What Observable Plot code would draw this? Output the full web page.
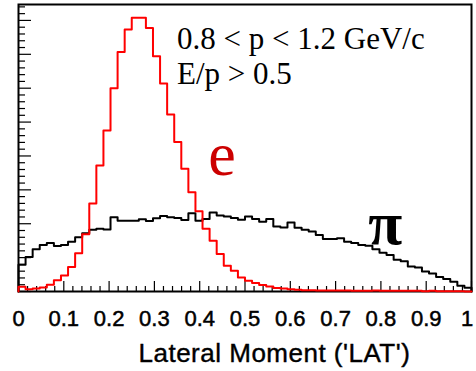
<!DOCTYPE html>
<html>
<head>
<meta charset="utf-8">
<script src="https://cdn.jsdelivr.net/npm/d3@7"></script>
<script src="https://cdn.jsdelivr.net/npm/@observablehq/plot@0.6"></script>
<style>
  html, body { margin: 0; padding: 0; background: #fff; }
</style>
</head>
<body>
<div id="chart"></div>
<script>
// ---- histogram binning: 64 bins over [0, 1] ----
const binCount = 64;
const xRange = [0, 1];

// electron histogram (arbitrary units), bins 0..63
const electron = [
  14, 7, 9, 12, 20, 33, 47, 72, 113, 169, 260, 372, 475, 600, 707, 773,
  808, 808, 778, 694, 614, 522, 441, 362, 293, 237, 185, 150, 111, 76, 61, 41,
  32, 25, 19, 15, 10, 9, 7, 5, 4, 4, 3, 3, 3, 3, 3, 2,
  2, 2, 3, 2, 2, 2, 2, 2, 2, 1, 2, 1, 1, 1, 1, 0
];

// pion histogram (arbitrary units), bins 0..63
const pion = [
  79, 102, 125, 137, 143, 134, 137, 147, 160, 172, 182, 185, 183, 219, 209, 209,
  209, 213, 208, 216, 223, 219, 217, 211, 231, 209, 214, 233, 224, 221, 217, 212,
  221, 214, 206, 214, 192, 189, 204, 188, 182, 177, 167, 155, 155, 157, 147, 143,
  137, 135, 125, 114, 108, 94, 89, 74, 71, 59, 53, 43, 37, 29, 17, 11
];

// axes
const xMajorTicks = [0, 0.1, 0.2, 0.3, 0.4, 0.5, 0.6, 0.7, 0.8, 0.9, 1];
const xTickLabels = ["0", "0.1", "0.2", "0.3", "0.4", "0.5", "0.6", "0.7", "0.8", "0.9", "1"];
const xMinorStep = 0.02;
const yMajorTicks = [0, 100, 200, 300, 400, 500, 600, 700, 800];
const yMinorStep = 20;
const yMax = 847;
const axisTitle = ["Lateral Moment ('LAT')"];

// annotations
const cutLabels = ["0.8 < p < 1.2 GeV/c", "E/p > 0.5"];
const cutLabelX = [0.35, 0.35];
const cutLabelY = [716, 612];
const seriesLabels = ["e", "π"];
const seriesLabelX = [0.419, 0.772];
const seriesLabelY = [345, 141];
const seriesLabelColors = ["#cc0000", "#000000"];

// ---- build step outlines from the bins ----
const binWidth = (xRange[1] - xRange[0]) / binCount;
function outline(values) {
  const pts = [{x: xRange[0], y: 0}];
  values.forEach((v, i) => pts.push({x: xRange[0] + i * binWidth, y: v}));
  pts.push({x: xRange[1], y: values[values.length - 1]});
  pts.push({x: xRange[1], y: 0});
  return pts;
}
const xMinorTicks = d3.range(0, 1.0001, xMinorStep).filter(t => !xMajorTicks.some(m => Math.abs(m - t) < 1e-6));
const yMinorTicks = d3.range(0, yMax, yMinorStep).filter(t => t % 100 !== 0);
const labelMap = new Map(xMajorTicks.map((t, i) => [t, xTickLabels[i]]));

const cutData = cutLabels.map((t, i) => ({t, x: cutLabelX[i], y: cutLabelY[i]}));
const seriesData = seriesLabels.map((t, i) => ({t, x: seriesLabelX[i], y: seriesLabelY[i], c: seriesLabelColors[i]}));

const serif = "'Liberation Serif', 'Times New Roman', serif";
const sans = "'Liberation Sans', Arial, Helvetica, sans-serif";

const chart = Plot.plot({
  width: 476,
  height: 371,
  marginLeft: 18,
  marginRight: 5,
  marginTop: 4,
  marginBottom: 80,
  style: {fontFamily: sans, fontSize: "22px", background: "#fff", color: "#000"},
  x: {domain: xRange},
  y: {domain: [0, yMax]},
  marks: [
    // x tick labels
    Plot.axisX({ticks: xMajorTicks, tickSize: 0, tickPadding: 19, tickFormat: d => labelMap.get(d), label: null, fontSize: 22}),
    // x ticks (inward)
    Plot.axisX({ticks: xMajorTicks, tickSize: -10, tickFormat: () => "", label: null, strokeWidth: 1.2}),
    Plot.axisX({ticks: xMinorTicks, tickSize: -5, tickFormat: () => "", label: null, strokeWidth: 1.2}),
    // y ticks (inward, no labels)
    Plot.axisY({ticks: yMajorTicks, tickSize: -13, tickFormat: () => "", label: null, strokeWidth: 1.2}),
    Plot.axisY({ticks: yMinorTicks, tickSize: -7, tickFormat: () => "", label: null, strokeWidth: 1.2}),
    // histograms
    Plot.line(outline(pion), {x: "x", y: "y", curve: "step-after", stroke: "#000", strokeWidth: 2}),
    Plot.frame({stroke: "#000", strokeWidth: 2}),
    Plot.line(outline(electron), {x: "x", y: "y", curve: "step-after", stroke: "#ff0000", strokeWidth: 2}),
    // annotations
    Plot.text(cutData, {x: "x", y: "y", text: "t", textAnchor: "start", lineAnchor: "bottom", fontFamily: serif, fontSize: 31, fill: "#000"}),
    Plot.text(seriesData.slice(0, 1), {x: "x", y: "y", text: "t", textAnchor: "start", lineAnchor: "bottom", fontFamily: serif, fontSize: 62, fill: "c"}),
    Plot.text(seriesData.slice(1), {x: "x", y: "y", text: "t", textAnchor: "start", lineAnchor: "bottom", fontFamily: serif, fontSize: 62, fontWeight: "bold", fill: "c"}),
    // axis title
    Plot.text(axisTitle, {frameAnchor: "bottom", x: () => 0.565, text: d => d, textAnchor: "middle", lineAnchor: "bottom", dy: 70, fontFamily: sans, fontSize: 26, fill: "#000"})
  ]
});
document.getElementById("chart").appendChild(chart);
// post-render touches: heavier glyphs as in the reference raster, keep "1" inside the picture
d3.select(chart).selectAll("text").each(function() {
  const s = this.textContent.trim();
  if (xTickLabels.includes(s)) {
    this.style.stroke = "#000";
    this.style.strokeWidth = "0.5px";
    if (s === "1") {
      const t = this.getAttribute("transform") || "";
      this.setAttribute("transform", t + " translate(-4.5,0)");
    }
  } else if (s === axisTitle[0]) {
    this.style.letterSpacing = "0.5px";
    this.style.stroke = "#000";
    this.style.strokeWidth = "0.4px";
  }
});
</script>
</body>
</html>
